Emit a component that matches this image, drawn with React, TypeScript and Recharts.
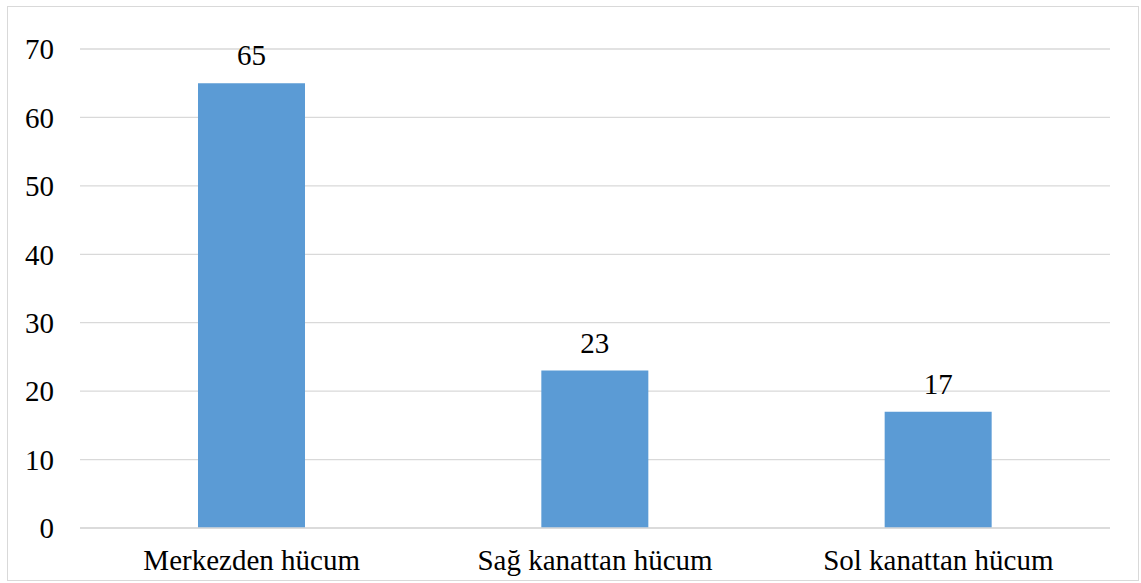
import React from "react";
import { BarChart, Bar, XAxis, YAxis, CartesianGrid, LabelList } from "recharts";

const categories = ["Merkezden hücum", "Sağ kanattan hücum", "Sol kanattan hücum"];
const values = [65, 23, 17];
const yTicks = [0, 10, 20, 30, 40, 50, 60, 70];

const data = categories.map((name, i) => ({ name, value: values[i] }));

const font = "'Times New Roman', 'Liberation Serif', Tinos, 'DejaVu Serif', serif";

export default function App() {
  return (
    <div
      style={{
        position: "fixed",
        left: 0,
        top: 0,
        width: 1141,
        height: 583,
        background: "#fff",
      }}
    >
      <style>{`.rc text { font-family: ${font} !important; }`}</style>
      <div
        style={{
          position: "absolute",
          left: 7,
          top: 6,
          width: 1130,
          height: 573,
          border: "1px solid #d9d9d9",
        }}
      />
      <div className="rc" style={{ position: "absolute", left: 0, top: 0 }}>
        <BarChart
          width={1141}
          height={583}
          data={data}
          margin={{ top: 49, right: 31, bottom: 0, left: 0 }}
          barSize={107}
        >
          <CartesianGrid vertical={false} stroke="#d9d9d9" strokeWidth={1.3} />
          <XAxis
            dataKey="name"
            height={55}
            axisLine={{ stroke: "#d9d9d9", strokeWidth: 1.3 }}
            tickLine={false}
            tickSize={0}
            tickMargin={21}
            tick={{ fill: "#000", fontSize: 29 }}
          />
          <YAxis
            width={80}
            domain={[0, 70]}
            ticks={yTicks}
            axisLine={false}
            tickLine={false}
            tickSize={0}
            tickMargin={26}
            tick={{ fill: "#000", fontSize: 29 }}
          />
          <Bar dataKey="value" fill="#5B9BD5" isAnimationActive={false}>
            <LabelList dataKey="value" position="top" offset={18} fill="#000" fontSize={29} />
          </Bar>
        </BarChart>
      </div>
    </div>
  );
}
